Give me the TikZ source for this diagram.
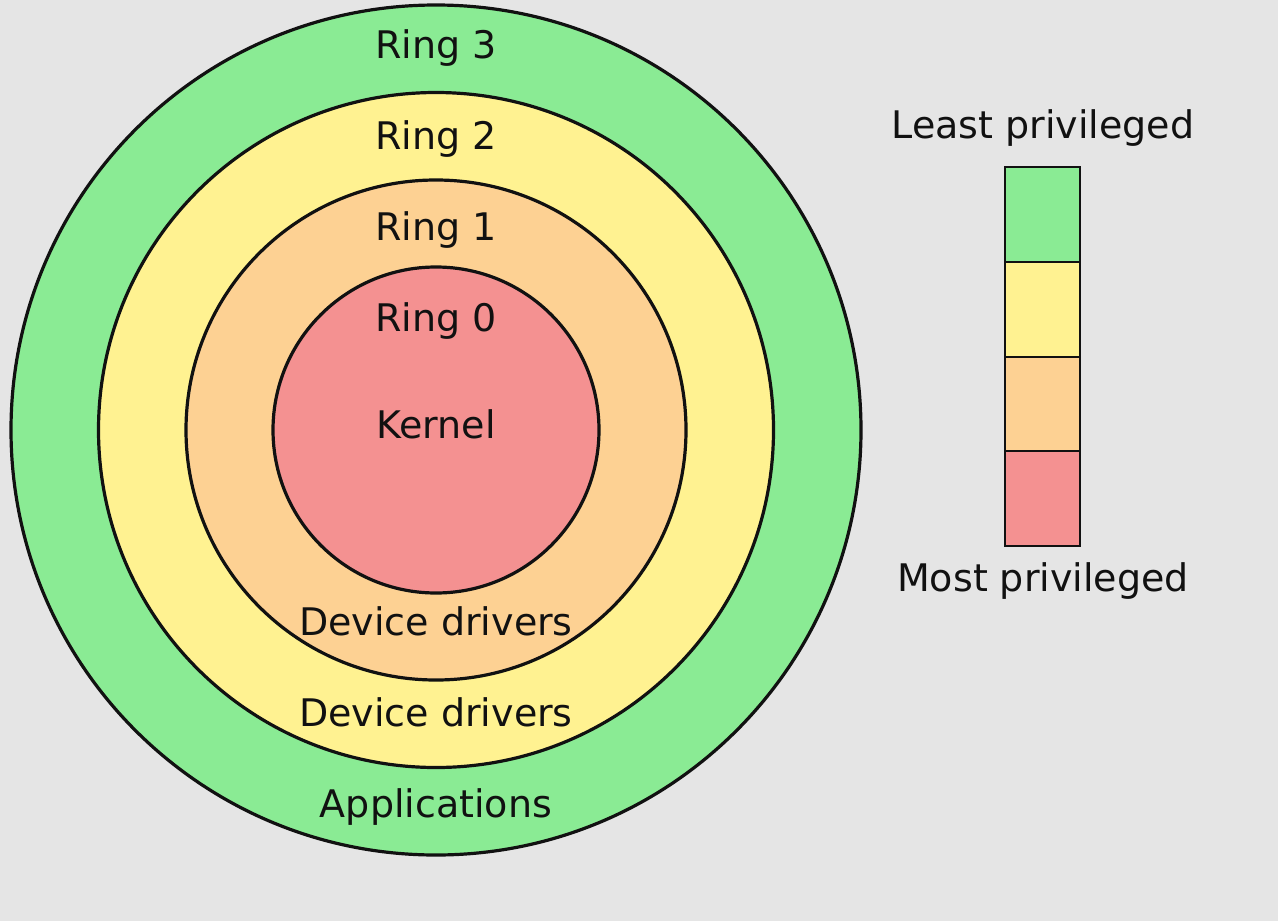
\documentclass[tikz,border=0pt]{standalone}
\usepackage{fontspec}
\setmainfont{DejaVu Sans}
\definecolor{bg}{HTML}{E5E5E5}
\definecolor{rgreen}{HTML}{8AEB94}
\definecolor{ryellow}{HTML}{FFF291}
\definecolor{rorange}{HTML}{FDD193}
\definecolor{rred}{HTML}{F49191}
\definecolor{ink}{HTML}{111111}
\tikzset{
  ring/.style={draw=ink, line width=1.6pt},
  lbl/.style={anchor=base, inner sep=0pt, text=ink, font=\fontsize{19pt}{22pt}\selectfont},
  legbox/.style={draw=ink, line width=1pt, minimum width=37.5pt, minimum height=47.4pt, inner sep=0pt, outer sep=0pt, anchor=north}
}
\begin{document}
\begin{tikzpicture}[x=0.5pt,y=-0.5pt]
\fill[bg] (0,0) rectangle (1278,921);
\useasboundingbox (0,0) rectangle (1278,921);
\coordinate (c) at (436,430);
\fill[rgreen, ring] (c) circle (212.5pt);
\fill[ryellow, ring] (c) circle (168.75pt);
\fill[rorange, ring] (c) circle (125pt);
\fill[rred, ring] (c) circle (81.5pt);
\node[lbl] (r3) at (436,58) {Ring 3};
\node[lbl] (r2) at (436,149) {Ring 2};
\node[lbl] (r1) at (436,240) {Ring 1};
\node[lbl] (r0) at (436,331) {Ring 0};
\node[lbl] (k) at (436,438) {Kernel};
\node[lbl] (d1) at (436,635) {Device drivers};
\node[lbl] (d2) at (436,726) {Device drivers};
\node[lbl] (ap) at (436,817) {Applications};
\node[legbox, fill=rgreen] (g) at (1042.5,167) {};
\node[legbox, fill=ryellow] (y) at (g.south) {};
\node[legbox, fill=rorange] (o) at (y.south) {};
\node[legbox, fill=rred] (r) at (o.south) {};
\node[lbl] (lp) at (1043,138) {Least privileged};
\node[lbl] (mp) at (1043,591) {Most privileged};
\end{tikzpicture}
\end{document}
